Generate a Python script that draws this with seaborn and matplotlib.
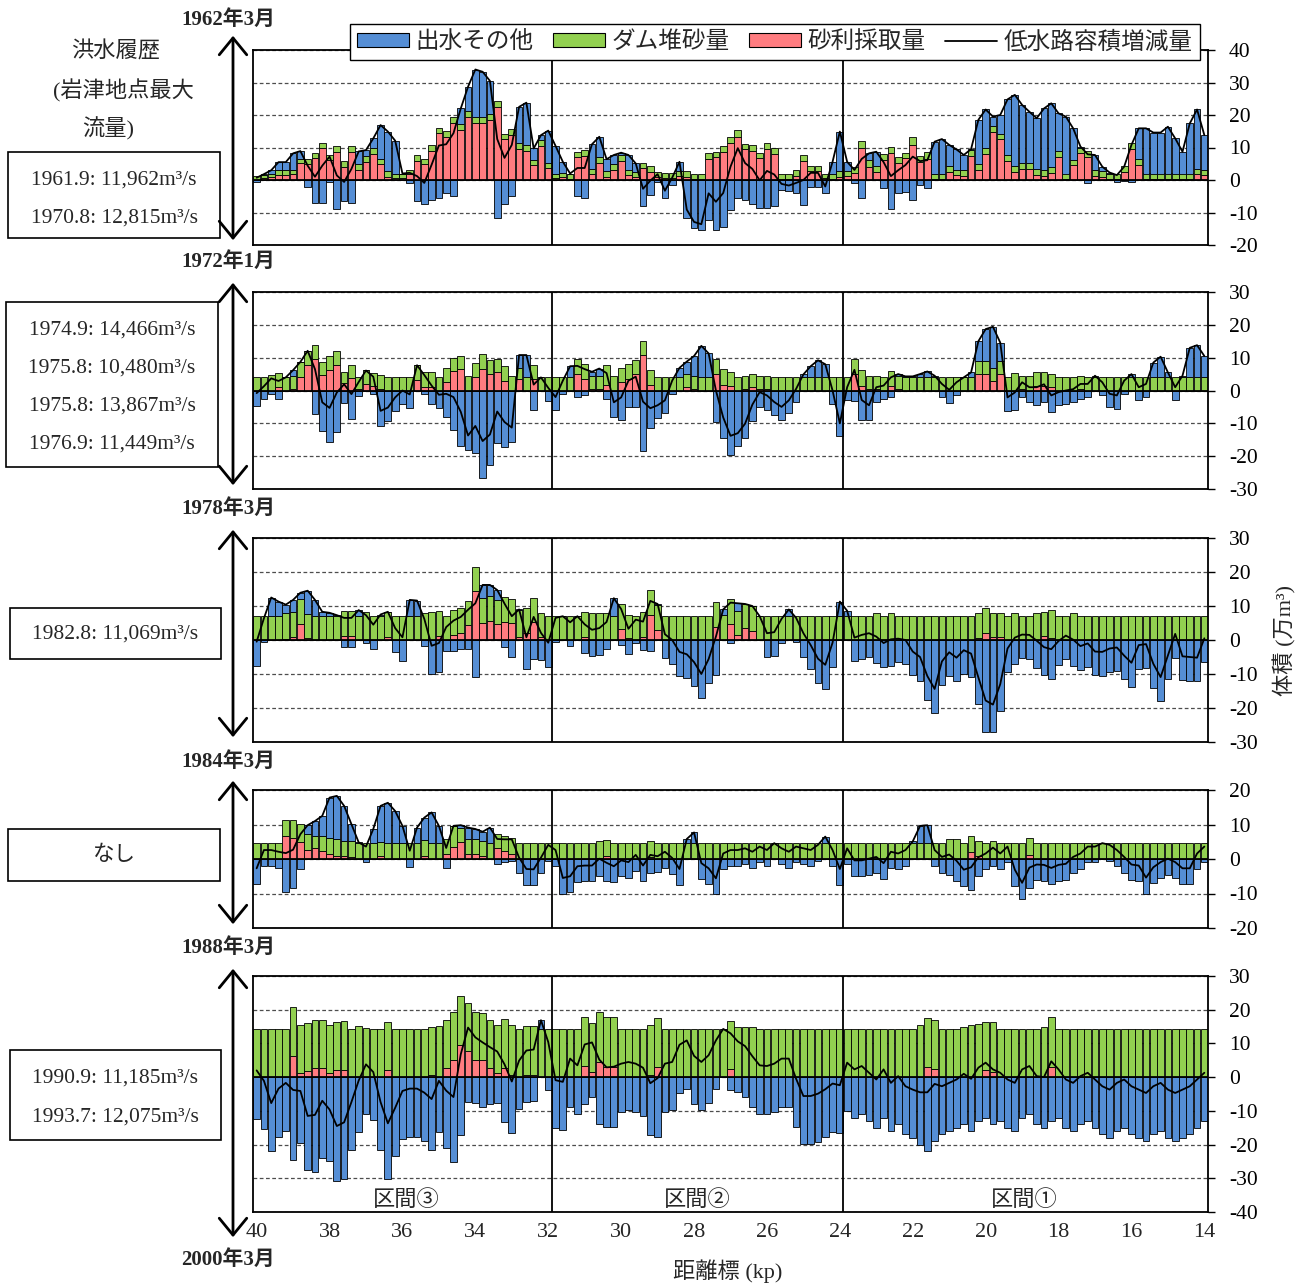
import numpy as np
import pandas as pd
import seaborn as sns
import matplotlib.pyplot as plt
from matplotlib.patches import Patch, Rectangle, FancyArrowPatch
from matplotlib.lines import Line2D

sns.set_theme(style="white")
plt.rcParams['font.family'] = ['Liberation Serif', 'Noto Sans CJK JP']
plt.rcParams['axes.unicode_minus'] = False

# 距離標 (kp) : 40.0 -> 14.0, 0.2 kp ごとの断面
kp = np.round(np.arange(40.0, 13.99, -0.2), 1)

# ---- 1962年3月 - 1972年1月 ----
red1 = [0, 0.5, 1, 1.5, 1.5, 1.7, 5.1, 4.9, 6.7, 9.7,
        6.2, 8.7, 4.1, 8.7, 3, 5.6, 7.9, 4.9, 1, 0.5,
        0.5, 1.8, 6, 4.9, 9, 14.4, 13.3, 17.4, 15.4, 19.5,
        17.6, 17.6, 18.5, 22.4, 12.5, 14, 9.5, 9, 4.5, 10.5,
        3.6, 0.5, 0.8, 0.2, 7, 7.4, 2, 5.3, 1, 3,
        6, 1.5, 1, 3.6, 2.6, 1, 0.6, 0.6, 1.2, 1,
        0.4, 0.2, 6.4, 7, 8.7, 11.3, 13.3, 9.5, 9, 6.7,
        9.4, 7.9, 0.2, 0.2, 1.3, 6, 2.9, 2.9, 0.5, 0.2,
        1, 1.2, 2.3, 10, 4.1, 2.6, 6.2, 8.2, 5.1, 6.7,
        10.8, 5.6, 6.4, 0.2, 0.2, 2.6, 1.5, 1.3, 7.4, 3,
        7.9, 14.7, 12.5, 5.8, 2.6, 3.3, 3.3, 1.5, 1.2, 2.3,
        7.2, 0.2, 4.6, 8.2, 7.2, 1.2, 1, 0.2, 0.4, 2.6,
        9.4, 4.6, 0.2, 0.2, 0.2, 0.2, 0.2, 0.2, 0.2, 1.8,
        1.5]
green1 = [1.2, 1, 1, 1.5, 1.5, 1.5, 1.5, 1.5, 1.5, 1.7,
          1.5, 1.7, 1.8, 1.7, 1.8, 1.7, 1.8, 1.7, 1.8, 1.5,
          1.5, 1.4, 1.7, 1.7, 1.7, 1.7, 1.7, 2, 1.8, 1.7,
          1.7, 1.7, 1.7, 2, 1.8, 1.8, 1.8, 1.8, 1.8, 1.8,
          1.7, 1.5, 1.5, 1.6, 1.7, 1.8, 1.5, 1.8, 1.7, 1.8,
          1.7, 1.7, 1.5, 1.7, 1.7, 1.5, 1.6, 1.6, 1.6, 1.7,
          1.6, 1.6, 1.8, 1.7, 1.7, 2, 2, 1.7, 1.9, 1.7,
          1.9, 1.8, 1.6, 1.6, 1.7, 1.7, 1.5, 1.5, 1.5, 1.6,
          1.8, 1.6, 1.8, 2, 2, 1.8, 1.8, 2, 1.9, 1.7,
          2.4, 1.7, 2.2, 1.6, 1.6, 1.8, 1.7, 1.7, 1.8, 1.8,
          1.8, 1.9, 1.8, 1.9, 1.8, 1.8, 1.8, 1.9, 1.9, 1.8,
          1.8, 1.8, 1.7, 1.7, 1.7, 1.8, 1.7, 1.6, 1.6, 1.8,
          1.9, 2, 1.8, 1.8, 1.8, 1.8, 1.8, 1.8, 1.8, 1.7,
          1.7]
blue1 = [-0.5, 0.3, 1, 2.5, 2.5, 5, 2.3, -2, -7.2, -7,
         -0.5, -9, -6.5, -7, 4, 1.9, 3.1, 10.3, 12.1, 10.1,
         0, -1, -6.5, -7.5, -6, -5.5, -4, -5, 4.8, 7.5,
         14.7, 14, 10.3, -11.8, -7.5, -5, 11.2, 13, 3.4, 1.5,
         9.9, 8.5, 3.3, 0.2, -5, -5.5, 7.5, 6.2, 3.7, 2.9,
         0.7, 4.5, 2.6, -8, -4.5, -0.7, -5.5, -1.5, 2.8, -11.8,
         -14.9, -15.4, -12.3, -15.4, -14.4, -9.2, -5.5, -6, -7.5, -8.5,
         -8.5, -8, -3, -3.5, -3.9, -7.7, -2.2, -2.2, -4, 3.8,
         12.1, 2.8, -1, -5.5, 2.1, 4.3, -2.5, -9, -4, -3.8,
         -6, -1.5, -2.5, 10, 10.8, 6.4, 6.2, 4.7, 0.3, 13.7,
         12, 2.9, 5.7, 17.1, 21.8, 18, 15.9, 15.6, 18.9, 19.5,
         11.5, 17.5, 9.6, 0.4, -1, 4.7, 1.4, 0.5, -0.5, -0.3,
         -0.5, 9.3, 13.9, 12.6, 12.6, 14.4, 10.8, 6.7, 15.4, 18.2,
         10.6]

# ---- 1972年1月 - 1978年3月 ----
red2 = [0, 0, 0, 1.1, 0, 0.5, 4.2, 7.7, 9.5, 4.7,
        6.2, 7.9, 2.3, 3.7, 0.6, 2.1, 1.3, 0.6, 0, 0,
        0, 0, 3.1, 1.1, 1.1, 0, 2.6, 6, 6.4, 0,
        4, 6.7, 5, 5.5, 3, 0, 3.5, 0, 3.6, 0,
        0, 0, 0, 0, 5.1, 3.6, 0.5, 0.5, 1.8, 0,
        2.6, 3.4, 4.9, 10.8, 1.8, 0, 0, 0, 0, 1,
        0.5, 0, 0, 5.1, 1.8, 1.3, 0, 0.5, 1, 0.5,
        0.5, 0, 0, 0, 0, 0, 0, 0, 0, 0,
        0, 0, 5.1, 1.5, 0.5, 0.5, 0, 1.5, 0.5, 0,
        0, 0, 0, 0, 0, 0, 0, 0, 0, 5.1,
        5.1, 3, 5.1, 0, 0, 0.5, 0, 1.5, 1.5, 1,
        0, 0, 0, 0.5, 0, 0, 0, 0, 0, 0,
        0, 0, 0, 0, 0, 0, 0, 0, 0, 0,
        0]
green2 = [4, 4, 4.7, 4.3, 4, 4, 4.5, 4.4, 4.3, 4.1,
          4.3, 4.2, 3.4, 4, 3.6, 4, 3.9, 4, 4, 4,
          4, 4, 4.6, 4.6, 4.6, 4, 4.4, 4, 4.1, 4.5,
          4.3, 4.4, 4.4, 4.2, 4.5, 4.5, 3.5, 4, 4.2, 4,
          4, 4, 4, 4, 4.4, 4.4, 4, 4, 6, 4.4,
          4.3, 4.6, 4.3, 4.3, 4.3, 4, 4, 4, 4, 4,
          4, 4, 4, 4.4, 4.6, 4.4, 4, 4, 4, 4,
          4, 4, 4, 4, 4, 4, 4, 4, 4, 4,
          4, 4, 4.4, 4.6, 4, 4, 4, 4.5, 4, 4,
          4, 4, 4, 4, 4, 4, 4, 4, 4, 4,
          4, 4, 4, 4, 5.4, 4, 4.5, 4, 4, 4,
          4, 4, 4, 4, 4, 4, 4, 4, 4, 4,
          4, 4, 4, 4, 4, 4, 4, 4, 4, 4,
          4]
blue2 = [-4.8, -2.7, -1, -2.5, 0, 1.7, 0, 0, -7.3, -12.4,
         -15.8, -12.7, -3.8, -8.8, -1.6, 0, -1, -10.8, -9.2, -6.1,
         -4, -5.2, 0, -1, -4.2, -5.3, -8, -12, -17, -18.2,
         -19.1, -26.5, -22.8, -16.1, -17.1, -15.8, 3.8, 6.8, -6, 0,
         -3.2, -6, -1, 3.4, -2, -1.5, 1.2, 2.2, -2.5, -8,
         -9, -5, -5, -18.5, -11.5, -8.5, -7, -1, 2.9, 3.8,
         6, 9.6, 7.3, -9.5, -14.6, -19.5, -17, -14.6, -9.3, -5,
         -6, -7.5, -9, -7, -3.5, 0.9, 3.4, 5.2, 4, -4,
         -14, -3, -3.2, -9, -9, -3.5, -2.5, -2, 0.5, 0.3,
         0.3, 1, 1.8, 0.5, -2, -3.8, -1.5, 0, 1.5, 5.9,
         9.6, 12.4, 5.5, -6.1, -6, -2, -3.5, -4.5, -3.6, -6.5,
         -4.5, -4, -3.6, -2.5, -2, 0.5, -1.5, -5, -5.5, -1,
         1, -3, -2, 4.5, 6.3, 1.5, -3, 0.5, 9, 9.8,
         6.5]

# ---- 1978年3月 - 1984年3月 ----
red3 = [0, 0, 0, 0, 0.4, 1, 4.7, 0.7, 0, 0,
        0, 0, 1.2, 1.2, 0, 0, 0, 0, 0.8, 0,
        0, 0, 0, 0, 0, 1.2, 0, 1.5, 2, 4.4,
        14.4, 4.9, 5.7, 4.7, 5.4, 4.9, 0.8, 2, 5.4, 1,
        0, 0, 0, 0, 0, 0.8, 0, 0, 0, 0,
        3.1, 0.5, 0, 0.8, 7.4, 3, 0, 0, 0, 0,
        0, 0, 0, 3.9, 0, 4.6, 1.5, 3.4, 2.7, 0,
        0, 0, 0, 0, 0, 0, 0, 0, 0, 0,
        0, 0, 0, 0, 0, 0, 0, 0, 0, 0,
        0, 0, 0, 0, 0, 0, 0, 0, 0, 0.7,
        2.2, 1, 0.8, 0, 0, 0, 0, 0, 1.2, 0.5,
        0, 0, 0, 0, 0, 0, 0, 0, 0, 0,
        0, 0, 0, 0, 0, 0, 0, 0, 0, 0,
        0]
green3 = [7, 7, 7, 7, 7.5, 7.3, 7.3, 7, 7, 7,
          7, 7, 7.3, 7.3, 7, 8.3, 7, 7, 7.5, 7,
          7, 7, 7, 8, 8.3, 7.3, 7, 7.3, 7.3, 7.1,
          7.2, 7.4, 7.1, 7, 7.3, 7.1, 8, 7.3, 6.9, 7,
          7, 7, 7, 7, 7, 7.5, 7.8, 7.8, 7.8, 7,
          7.5, 7, 7, 7.5, 7.3, 7.3, 7, 7, 7, 7,
          7, 7, 7, 7.4, 7.5, 7.4, 7.1, 7.2, 7.3, 7,
          7, 7, 7, 7, 7, 7, 7, 7, 7, 7,
          7, 7, 7, 7, 7, 7.8, 7, 7.8, 7, 7,
          7, 7, 7, 7, 7, 7, 7, 7, 7, 7.1,
          7.1, 7, 7.2, 7, 7.8, 7, 7, 8, 6.9, 8.3,
          7, 7, 7.8, 7, 7, 7, 7, 7, 7, 7,
          7, 7, 7, 7, 7, 7, 7, 7, 7, 7,
          7]
blue3 = [-7.5, -0.6, 5.5, 4.3, 2.5, 3.5, 1.9, 6.8, 4.8, 1.3,
         1, 0.3, -2, -2, 1.8, -1, -2.5, 0.5, 0, -3.5,
         -6.2, 4.8, 4.6, -1.8, -10, -9.4, -3.2, -3.1, -2.5, -2.6,
         -10.8, 3.9, 3.4, 3, -2, -5, 0.2, -8.5, -5.5, -5.9,
         -7.8, -0.5, 0, -1.8, 0, -3.7, -4.8, -4.3, -2.5, 5.3,
         -1.5, -4.2, -1, -2.9, -3.2, 0.3, -5.3, -7, -10.5, -11.2,
         -13.5, -17, -12.6, -10.3, 1.5, -1, 2.2, 0, 0, 0,
         -5, -4.7, -0.8, 2, -0.5, -5, -8.5, -12.5, -14.3, -7.8,
         4.3, 1.6, -6.3, -5.5, -5, -6.8, -7.9, -7.6, -6.6, -7,
         -10.4, -12, -17.6, -21.4, -13.3, -10.6, -12.2, -10, -11, -18.8,
         -27.1, -27, -21, -9.5, -7.1, -5.4, -5.5, -8.2, -10.2, -11.5,
         -7.3, -5.7, -7.7, -8.8, -8, -10.4, -10.5, -9.5, -9.2, -11.6,
         -13.7, -8.5, -8.2, -14, -17.9, -11.6, -5.2, -11.8, -12, -12.2,
         -6.5]

# ---- 1984年3月 - 1988年3月 ----
red4 = [0, 0, 0, 0, 6.7, 6.2, 4.8, 2.7, 3.1, 2.4,
        1.4, 1, 0.8, 0.6, 0, 0, 0, 0.8, 0, 0,
        0, 0, 0, 0.8, 0, 0, 1.4, 3.4, 4.8, 1.4,
        1.4, 1, 0, 3.1, 2.4, 1.4, 0, 0, 0, 0,
        0, 0, 0, 0, 0, 0, 0, 0.3, 0.8, 0,
        0, 0, 0, 0, 0.6, 0, 0, 0, 0, 0,
        0, 0, 0, 0, 0, 0, 0, 0, 0, 0,
        0, 0, 0, 0, 0, 0, 0, 0, 0, 0,
        0, 0, 0, 0, 0, 0, 0, 0, 0, 0,
        0, 0, 0, 0, 0, 0.3, 0, 0, 1.9, 1,
        0, 0, 0, 0, 0, 0, 1.2, 0, 0, 0,
        0, 0, 0, 0, 0, 0, 0, 0, 0, 0,
        0, 0, 0, 0, 0, 0, 0, 0, 0, 0,
        0]
green4 = [4.6, 4.6, 4.6, 4.6, 4.6, 5, 5.3, 4.5, 3.6, 4.3,
          4.8, 4.8, 4.3, 4.6, 4.6, 4.6, 4.6, 4, 4.6, 4.6,
          4.6, 4.6, 4.6, 4.7, 4.6, 4.6, 4.3, 6.2, 4.3, 4.3,
          4.3, 4.3, 4.6, 4.2, 4.3, 4.8, 4.6, 4.6, 4.6, 4.6,
          4.6, 4.6, 4.6, 4.6, 4.6, 4.6, 4.6, 4.8, 4.6, 4.6,
          4.6, 4.6, 4.6, 4.6, 4.6, 4.6, 4.6, 4.6, 4.6, 4.6,
          4.6, 4.6, 4.6, 4.6, 4.6, 4.6, 4.6, 4.6, 4.6, 4.6,
          4.6, 4.6, 4.6, 4.6, 4.6, 4.6, 4.6, 4.6, 4.6, 4.6,
          4.6, 4.6, 4.6, 4.6, 4.6, 4.6, 4.6, 4.6, 4.6, 4.6,
          4.6, 4.6, 4.6, 4.6, 4.6, 5.5, 5.8, 4.6, 4.8, 4.3,
          4.6, 5.3, 4.6, 4.6, 4.6, 4.6, 4.8, 4.6, 4.6, 4.6,
          4.6, 4.6, 4.6, 4.6, 4.6, 4.6, 4.6, 4.6, 4.6, 4.6,
          4.6, 4.6, 4.6, 4.6, 4.6, 4.6, 4.6, 4.6, 4.6, 4.6,
          4.6]
blue4 = [-7.3, -2, -2, -2.5, -9.6, -8.5, -2.9, 2.6, 4.3, 5.8,
         11.6, 12.5, 10.3, 4.9, 0.2, -1, 4.1, 10.6, 11.7, 9.3,
         5, -2.2, 4.5, 6.5, 8.9, 5, -2.5, 0, 0.7, 3.4,
         3, 2.6, 4.5, -1.5, -1, -0.5, -4.2, -7.5, -7.6, -4.2,
         -0.5, -2, -10.1, -9.6, -6.7, -6.5, -6.5, -5, -6.5, -6.7,
         -5, -5.5, -3.4, -6.5, -4, -3.8, -2.5, -4.3, -7.5, 1.2,
         3.1, -5.8, -7.3, -10.2, -3, -2, -2, -1.5, -2.5, -1,
         -2, 0, -1.5, -2.5, -1, -1.5, -2, -0.5, 1.9, -2,
         -7.5, -1.5, -5, -5, -4.5, -4, -5.8, -2.5, -3, -2,
         0.5, 5, 5.2, -2, -4, -4.5, -6.3, -7.7, -9.1, -4.8,
         -3, -2, -3, -1, -7.7, -11.5, -8.5, -6.2, -6.3, -7.2,
         -6.3, -6, -4, -3, -1, -1, 0, -0.5, -2, -4,
         -6.2, -6.5, -10, -7, -5.5, -4.5, -5.5, -7.3, -7.3, -3,
         -1]

# ---- 1988年3月 - 2000年3月 ----
red5 = [0, 0, 0, 0, 0, 6.3, 1.3, 1.8, 2.6, 2.6,
        1.1, 2.1, 2.1, 0, 0, 0, 0, 0, 2.1, 0,
        0, 0, 0, 0, 0.6, 0, 2.6, 5, 9.5, 7.8,
        5, 5, 2.6, 1.1, 2.8, 0.6, 0, 0.6, 0.6, 0,
        0, 0, 0, 0, 0, 3.3, 1.6, 4.6, 2.9, 2.9,
        0, 0, 0, 0, 0.6, 3.1, 0, 0, 0, 0,
        0, 0, 0, 0, 0, 2.3, 0, 0, 0, 0,
        0, 0, 0, 0, 0, 0, 0, 0, 0, 0,
        0, 0, 0, 0, 0, 0, 0, 0, 0, 0,
        0, 0, 3, 2.5, 0, 0, 0, 0, 0, 0,
        2, 1.5, 0, 0, 0, 0, 0, 0, 0, 3,
        0, 0, 0, 0, 0, 0, 0, 0, 0, 0,
        0, 0, 0, 0, 0, 0, 0, 0, 0, 0,
        0]
green5 = [14.3, 14.3, 14.3, 14.3, 14.3, 14.4, 14.1, 14.3, 14.3, 14.3,
          14.3, 14.3, 14.6, 14.3, 15.2, 14.6, 14.3, 14.3, 14.3, 14.3,
          14.3, 14.3, 14.3, 14.3, 14.4, 15.1, 14.3, 14.4, 14.5, 14.2,
          14.4, 14.1, 14.3, 14.3, 14.3, 14.8, 14.3, 14.6, 14.6, 14.3,
          14.3, 14.3, 14.3, 14.3, 14.3, 14.4, 14.5, 14.6, 14.8, 15,
          14.3, 14.3, 14.3, 14.3, 14.8, 14.3, 14.3, 14.3, 14.3, 14.3,
          14.3, 14.3, 14.3, 14.3, 14.3, 14.4, 15, 15, 15, 14.3,
          14.3, 14.3, 14.3, 14.3, 14.3, 14.3, 14.3, 14.3, 14.3, 14.3,
          14.3, 14.3, 14.3, 14.3, 14.3, 14.3, 14.3, 14.3, 14.3, 14.3,
          14.3, 15.5, 14.5, 14.5, 14.3, 14.3, 14.3, 15, 15.5, 15.8,
          14.3, 14.8, 14.3, 14.3, 14.3, 14.3, 14.3, 14.3, 15, 14.7,
          14.3, 14.3, 14.3, 14.3, 14.3, 14.3, 14.3, 14.3, 14.3, 14.3,
          14.3, 14.3, 14.3, 14.3, 14.3, 14.3, 14.3, 14.3, 14.3, 14.3,
          14.3]
blue5 = [-12.3, -15.4, -22, -17.7, -16, -24.5, -19.5, -27.6, -28.1, -23.9,
         -25, -30.9, -30.1, -21.7, -16.2, -10.8, -12.8, -21.7, -30.1, -23.4,
         -18.4, -17.7, -17.7, -18.9, -21.5, -16.2, -20.9, -25.3, -17.2, -7.3,
         -7.6, -8.8, -8, -7.8, -13.3, -16.7, -9.4, -7.3, -7, 2.6,
         -3.9, -15.2, -15.7, -8.8, -10.8, -8, -5.8, -14, -14.8, -14.8,
         -10.3, -9.8, -10.3, -11.5, -17.2, -17.7, -10.3, -9.8, -4.7, -3.4,
         -8, -9.8, -7.8, -3.4, 0, -3.7, -4.4, -5.8, -8.8, -10.8,
         -11, -10.3, -8.8, -8.8, -14.8, -19.9, -19.9, -19.2, -17.9, -16.2,
         -16.7, -10, -12, -11, -13, -15, -12, -16, -14, -17,
         -18, -20, -22, -19, -17, -16, -15, -14, -16, -13,
         -12, -14, -13, -15, -16, -12, -11, -14, -15, -13,
         -12, -15, -16, -14, -13, -15, -17, -18, -16, -15,
         -17, -18, -19, -17, -16, -18, -19, -18, -17, -15,
         -13]

BLUE, GREEN, RED = '#558ED5', '#92D050', '#FF7C80'
W, H = 1306, 1284

fig = plt.figure(figsize=(W / 100, H / 100), dpi=100)


def px_axes(left, top, right, bottom):
    return fig.add_axes([left / W, 1 - bottom / H, (right - left) / W, (bottom - top) / H])


# (上端px, 下端px, ymin, ymax, 砂利, ダム, 出水)
panels = [
    (50, 245, -20, 40, red1, green1, blue1),
    (292, 489, -30, 30, red2, green2, blue2),
    (538, 742, -30, 30, red3, green3, blue3),
    (790, 928, -20, 20, red4, green4, blue4),
    (976, 1212, -40, 30, red5, green5, blue5),
]

axes = []
for top, bot, ymin, ymax, r, g, b in panels:
    ax = px_axes(253, top, 1208, bot)
    r, g, b = np.array(r), np.array(g), np.array(b)
    bar_kw = dict(width=0.185, edgecolor='black', linewidth=0.6, zorder=2)
    ax.bar(kp, r, color=RED, **bar_kw)
    ax.bar(kp, g, bottom=r, color=GREEN, **bar_kw)
    ax.bar(kp, b, bottom=np.where(b >= 0, r + g, 0), color=BLUE, **bar_kw)

    df = pd.DataFrame({'kp': kp, 'total': r + g + b})
    sns.lineplot(data=df, x='kp', y='total', color='black', linewidth=1.3,
                 sort=False, ax=ax, zorder=4)

    ax.axhline(0, color='black', lw=1.3, zorder=3)
    for xb in (31.9, 23.9):
        ax.axvline(xb, color='black', lw=1.3, zorder=5)

    ax.set_xlim(40.1, 13.9)
    ax.set_ylim(ymin, ymax)
    ax.set_yticks(np.arange(ymin, ymax + 1, 10))
    ax.yaxis.tick_right()
    ax.grid(axis='y', linestyle=(0, (3, 2)), color='0.3', lw=0.9)
    ax.set_axisbelow(True)
    ax.tick_params(axis='y', direction='out', length=5, width=1, labelsize=15.5,
                   pad=10, right=True, left=False, colors='black')
    ax.set_xlabel('')
    ax.set_ylabel('')
    for s in ax.spines.values():
        s.set_color('black')
        s.set_linewidth(1.3)
    ax.set_xticks([])
    axes.append(ax)

# 下段の x 軸
ax5 = axes[-1]
ax5.set_xticks(np.arange(40, 13, -2))
ax5.tick_params(axis='x', length=0, labelsize=16, pad=8)
for xs, lab in ((35.9, '区間③'), (27.9, '区間②'), (18.95, '区間①')):
    ax5.text(xs, -36.6, lab, ha='center', va='center', fontsize=16, zorder=6)

fig.text(728 / W, 1 - 1271 / H, '距離標 (kp)', ha='center', va='center', fontsize=16)
fig.text(1285 / W, 1 - 640 / H, '体積 (万m³)', ha='center', va='center',
         rotation=90, fontsize=16)

# 凡例
handles = [Patch(facecolor=BLUE, edgecolor='black', lw=0.8),
           Patch(facecolor=GREEN, edgecolor='black', lw=0.8),
           Patch(facecolor=RED, edgecolor='black', lw=0.8),
           Line2D([], [], color='black', lw=1.3)]
labels = ['出水その他', 'ダム堆砂量', '砂利採取量', '低水路容積増減量']
leg = fig.legend(handles, labels, loc='upper right', bbox_to_anchor=(1200 / W, 1 - 24 / H),
                 borderaxespad=0, ncol=4, fontsize=17, frameon=True, fancybox=False,
                 framealpha=1, edgecolor='black', handlelength=2.2, handleheight=0.55,
                 handletextpad=0.3, columnspacing=0.8, borderpad=0.3)
leg.get_frame().set_linewidth(1.0)

# 期間と矢印
dates = [(20, '1962年3月'), (262, '1972年1月'), (509, '1978年3月'),
         (762, '1984年3月'), (948, '1988年3月'), (1260, '2000年3月')]
for y, t in dates:
    fig.text(228 / W, 1 - y / H, t, ha='center', va='center', fontsize=15,
             fontweight='bold')

arrows = [(33, 243), (280, 488), (527, 740), (778, 927), (966, 1240)]
for y0, y1 in arrows:
    fig.add_artist(FancyArrowPatch((233 / W, 1 - y0 / H), (233 / W, 1 - y1 / H),
                                   transform=fig.transFigure,
                                   arrowstyle='<->,head_length=0.55,head_width=0.45',
                                   mutation_scale=22, lw=2, color='black'))

# 洪水履歴
fig.text(116 / W, 1 - 52 / H, '洪水履歴', ha='center', va='center', fontsize=16)
fig.text(123 / W, 1 - 91 / H, '(岩津地点最大', ha='center', va='center', fontsize=16)
fig.text(108 / W, 1 - 129 / H, '流量)', ha='center', va='center', fontsize=16)

boxes = [
    ((8, 152, 220, 238), [(180, '1961.9: 11,962m³/s'), (218, '1970.8: 12,815m³/s')]),
    ((6, 302, 218, 467), [(330, '1974.9: 14,466m³/s'), (368, '1975.8: 10,480m³/s'),
                          (406, '1975.8: 13,867m³/s'), (444, '1976.9: 11,449m³/s')]),
    ((10, 608, 221, 659), [(634, '1982.8: 11,069m³/s')]),
    ((8, 829, 220, 881), [(855, 'なし')]),
    ((10, 1050, 221, 1140), [(1078, '1990.9: 11,185m³/s'), (1117, '1993.7: 12,075m³/s')]),
]
for (l, t, r, b), lines in boxes:
    fig.add_artist(Rectangle((l / W, 1 - b / H), (r - l) / W, (b - t) / H,
                             transform=fig.transFigure, fill=False,
                             edgecolor='black', lw=1.2))
    for y, txt in lines:
        fig.text((l + r) / 2 / W, 1 - y / H, txt, ha='center', va='center', fontsize=15.5)

fig.savefig('out.png', dpi=100)
